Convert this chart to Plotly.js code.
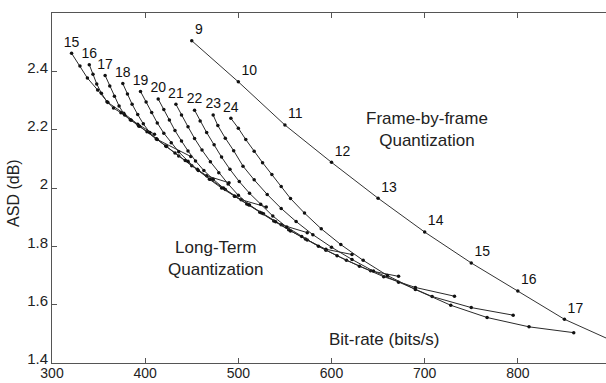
<!DOCTYPE html>
<html>
<head>
<meta charset="utf-8">
<script src="https://cdn.plot.ly/plotly-3.0.1.min.js"></script>
<style>
html,body{margin:0;padding:0;overflow:hidden;background:#fff;}
#chart{width:620px;height:383px;}
</style>
</head>
<body>
<div id="chart"></div>
<script>
// Frame-by-frame quantization (bits per frame labels)
const fbfRate = [450, 500, 550, 600, 650, 700, 750, 800, 850, 900];
const fbfASD  = [2.505, 2.364, 2.216, 2.088, 1.965, 1.849, 1.743, 1.647, 1.550, 1.478];
const fbfLabels = ['9', '10', '11', '12', '13', '14', '15', '16', '17'];

// Long-term quantization curves
const ltLabels = ['15', '16', '17', '18', '19', '20', '21', '22', '23', '24'];
const lt15Rate = [321, 330, 338, 349, 360, 377, 392, 410];
const lt15ASD  = [2.462, 2.418, 2.377, 2.336, 2.293, 2.256, 2.219, 2.184];
const lt16Rate = [340, 344, 348, 353, 359, 366, 374, 384, 394, 412, 449];
const lt16ASD  = [2.423, 2.390, 2.357, 2.325, 2.296, 2.274, 2.258, 2.234, 2.212, 2.168, 2.108];
const lt17Rate = [357, 362, 367, 372, 378, 385, 393, 402, 412, 423, 436, 450, 466, 490];
const lt17ASD  = [2.386, 2.350, 2.315, 2.281, 2.250, 2.232, 2.213, 2.193, 2.169, 2.142, 2.110, 2.076, 2.042, 2.018];
const lt18Rate = [376, 381, 386, 392, 398, 405, 413, 422, 432, 443, 456, 470, 486, 503, 530];
const lt18ASD  = [2.358, 2.322, 2.287, 2.252, 2.220, 2.190, 2.166, 2.144, 2.120, 2.094, 2.064, 2.030, 1.995, 1.960, 1.935];
const lt19Rate = [395, 401, 407, 413, 420, 428, 436, 446, 457, 469, 482, 496, 511, 527, 546, 574];
const lt19ASD  = [2.331, 2.295, 2.259, 2.223, 2.188, 2.155, 2.124, 2.092, 2.060, 2.030, 2.000, 1.972, 1.943, 1.912, 1.874, 1.847];
const lt20Rate = [414, 420, 426, 432, 439, 446, 454, 463, 473, 484, 496, 509, 523, 538, 554, 572, 594, 622];
const lt20ASD  = [2.305, 2.269, 2.233, 2.197, 2.161, 2.127, 2.093, 2.060, 2.030, 2.000, 1.972, 1.945, 1.917, 1.887, 1.857, 1.825, 1.790, 1.772];
const lt21Rate = [433, 439, 446, 453, 461, 470, 479, 489, 500, 512, 525, 540, 556, 574, 594, 616, 642, 672];
const lt21ASD  = [2.287, 2.250, 2.210, 2.170, 2.130, 2.090, 2.052, 2.014, 1.975, 1.942, 1.914, 1.884, 1.853, 1.822, 1.787, 1.752, 1.716, 1.697];
const lt22Rate = [453, 459, 466, 474, 482, 491, 501, 512, 524, 537, 552, 568, 586, 606, 630, 656, 690, 732];
const lt22ASD  = [2.267, 2.230, 2.190, 2.148, 2.106, 2.064, 2.022, 1.982, 1.944, 1.904, 1.866, 1.834, 1.800, 1.768, 1.732, 1.696, 1.659, 1.629];
const lt23Rate = [473, 478, 486, 495, 505, 517, 531, 546, 562, 580, 600, 622, 645, 672, 708, 750, 795];
const lt23ASD  = [2.250, 2.214, 2.171, 2.128, 2.075, 2.028, 1.978, 1.930, 1.885, 1.840, 1.797, 1.755, 1.715, 1.677, 1.628, 1.590, 1.564];
const lt24Rate = [492, 500, 508, 517, 526, 536, 546, 556, 571, 589, 610, 634, 660, 690, 728, 767, 812, 860];
const lt24ASD  = [2.239, 2.205, 2.166, 2.126, 2.087, 2.046, 2.005, 1.964, 1.914, 1.860, 1.806, 1.752, 1.700, 1.652, 1.598, 1.556, 1.524, 1.504];

const xTicks = [300, 400, 500, 600, 700, 800, 900];
const yTicks = [1.4, 1.6, 1.8, 2.0, 2.2, 2.4];
const yTickText = ['1.4', '1.6', '1.8', '2', '2.2', '2.4'];

const ltRates = [lt15Rate, lt16Rate, lt17Rate, lt18Rate, lt19Rate, lt20Rate, lt21Rate, lt22Rate, lt23Rate, lt24Rate];
const ltASDs  = [lt15ASD, lt16ASD, lt17ASD, lt18ASD, lt19ASD, lt20ASD, lt21ASD, lt22ASD, lt23ASD, lt24ASD];

const FONT = 'Liberation Sans, Arial, sans-serif';
const traces = [];
ltRates.forEach((r, i) => {
  traces.push({
    x: r, y: ltASDs[i], type: 'scatter', mode: 'lines+markers+text',
    text: r.map((_, j) => j === 0 ? ltLabels[i] : ''),
    textposition: 'top center',
    textfont: {family: FONT, size: 14, color: '#111'},
    line: {color: '#2a2a2a', width: 1},
    marker: {color: '#111', size: 3.5},
    cliponaxis: true, hoverinfo: 'skip'
  });
});
traces.push({
  x: fbfRate, y: fbfASD, type: 'scatter', mode: 'lines+markers+text',
  text: fbfRate.map((_, j) => fbfLabels[j] || ''), textposition: 'top right',
  textfont: {family: FONT, size: 14, color: '#111'},
  line: {color: '#333', width: 1},
  marker: {color: '#111', size: 3.5},
  cliponaxis: true, hoverinfo: 'skip'
});

const layout = {
  width: 620, height: 383,
  margin: {l: 52, r: 9, t: 13, b: 20},
  paper_bgcolor: '#fff', plot_bgcolor: '#fff',
  showlegend: false,
  font: {family: FONT, color: '#222'},
  xaxis: {
    range: [300, 900], tickvals: xTicks, ticks: 'inside', ticklen: 5,
    tickcolor: '#555', showline: true, linecolor: '#555', linewidth: 1,
    mirror: 'ticks', showgrid: false, zeroline: false, ticklabelstandoff: -3,
    tickfont: {family: FONT, size: 14, color: '#222'}
  },
  yaxis: {
    range: [1.4, 2.6], tickvals: yTicks, ticktext: yTickText, ticks: 'inside', ticklen: 5,
    tickcolor: '#555', showline: true, linecolor: '#555', linewidth: 1,
    mirror: 'ticks', showgrid: false, zeroline: false, ticklabelshift: -4,
    tickfont: {family: FONT, size: 15, color: '#222'}
  },
  annotations: [
    {xref: 'paper', yref: 'paper', x: -0.068, y: 0.486, text: 'ASD (dB)', textangle: -90,
     showarrow: false, xanchor: 'center', yanchor: 'middle', font: {family: FONT, size: 16, color: '#222'}},
    {x: 657, y: 1.479, text: 'Bit-rate (bits/s)', showarrow: false,
     font: {family: FONT, size: 17, color: '#222'}},
    {x: 703, y: 2.199, text: 'Frame-by-frame<br>Quantization', showarrow: false,
     font: {family: FONT, size: 17, color: '#222'}},
    {x: 475, y: 1.76, text: 'Long-Term<br>Quantization', showarrow: false,
     font: {family: FONT, size: 17, color: '#222'}}
  ]
};

Plotly.newPlot('chart', traces, layout, {staticPlot: true, displayModeBar: false});
</script>
</body>
</html>
